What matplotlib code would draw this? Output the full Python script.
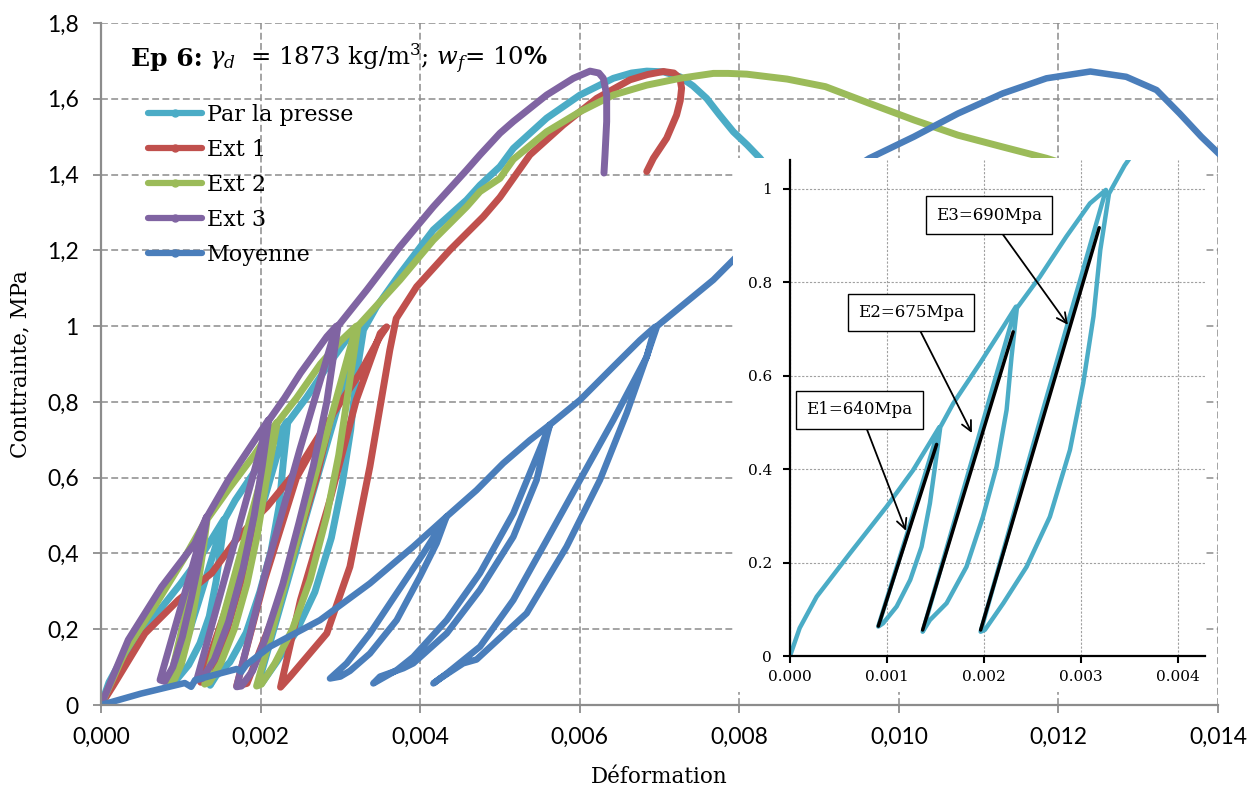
import matplotlib

matplotlib.use("Agg")

import matplotlib.pyplot as plt
from matplotlib.lines import Line2D
from matplotlib.ticker import FuncFormatter, MultipleLocator

# ---- data (strain, stress MPa) ----
presse_x = [0, 0.0001, 0.000275, 0.000619, 0.000997, 0.00127, 0.00154,
            0.00122, 0.00091,
            0.00096, 0.0011, 0.00124, 0.001357, 0.001443, 0.001495, 0.00155,
            0.001684, 0.00196, 0.0022, 0.00233,
            0.00185, 0.001368,
            0.001443, 0.001615, 0.00182, 0.00199, 0.00213, 0.002234, 0.002285, 0.00234,
            0.002577, 0.00285, 0.003093, 0.003258,
            0.0026, 0.001966,
            0.00201, 0.0022, 0.00244, 0.00268, 0.002887, 0.003024, 0.00313, 0.0032, 0.00329,
            0.00345, 0.00375, 0.004165, 0.004583, 0.00475, 0.005, 0.005168, 0.005586,
            0.006004, 0.006421, 0.00665, 0.00684, 0.00705, 0.007256, 0.00742, 0.007591,
            0.00775, 0.007925, 0.0081, 0.00826, 0.0085]
presse_y = [0, 0.06, 0.127, 0.22, 0.32, 0.398, 0.49,
            0.27, 0.063,
            0.07, 0.106, 0.163, 0.234, 0.327, 0.405, 0.49,
            0.541, 0.627, 0.705, 0.748,
            0.40, 0.052,
            0.077, 0.113, 0.191, 0.298, 0.405, 0.527, 0.641, 0.745,
            0.812, 0.898, 0.969, 0.998,
            0.52, 0.052,
            0.056, 0.113, 0.191, 0.298, 0.441, 0.584, 0.727, 0.869, 0.99,
            1.05, 1.139, 1.254, 1.333, 1.372, 1.421, 1.469, 1.549,
            1.61, 1.654, 1.668, 1.673, 1.671, 1.658, 1.634, 1.601,
            1.558, 1.513, 1.478, 1.443, 1.38]

ext1_x = [0, 0.00015, 0.000551, 0.000969, 0.001387, 0.00169, 0.00197,
          0.00161, 0.00125,
          0.00131, 0.00142, 0.00157, 0.00172, 0.00185, 0.00197,
          0.00208, 0.00249, 0.00285,
          0.00245, 0.00205, 0.0017,
          0.00183, 0.00216, 0.00249, 0.0027, 0.00287,
          0.002911, 0.003246, 0.003497, 0.00358,
          0.0035, 0.0032, 0.00287, 0.0025, 0.00225,
          0.00237, 0.00283, 0.00312, 0.00337, 0.00362, 0.0037,
          0.003956, 0.004374, 0.004792, 0.005, 0.005376, 0.005794, 0.006212, 0.00663,
          0.00685, 0.007048, 0.00718, 0.007256, 0.007277, 0.00726, 0.007214, 0.00709,
          0.006923, 0.00684]
ext1_y = [0, 0.05, 0.189, 0.277, 0.348, 0.435, 0.50,
          0.28, 0.06,
          0.062, 0.10, 0.19, 0.30, 0.40, 0.50,
          0.523, 0.629, 0.75,
          0.60, 0.33, 0.05,
          0.057, 0.233, 0.453, 0.60, 0.75,
          0.77, 0.876, 0.972, 0.998,
          0.981, 0.805, 0.541, 0.277, 0.047,
          0.075, 0.189, 0.365, 0.629, 0.937, 1.02,
          1.104, 1.201, 1.289, 1.34, 1.452, 1.531, 1.601, 1.65,
          1.664, 1.672, 1.668, 1.654, 1.628, 1.595, 1.557, 1.496,
          1.443, 1.408]

ext2_x = [0, 0.0003, 0.0007, 0.00105, 0.00132,
          0.00109, 0.00086,
          0.00091, 0.00101, 0.00112, 0.00121, 0.00128, 0.00133,
          0.0016, 0.00192, 0.0022,
          0.00175, 0.0013,
          0.00136, 0.0015, 0.00167, 0.00183, 0.00196, 0.00207, 0.00221,
          0.00245, 0.00275, 0.003, 0.0032,
          0.00258, 0.00195,
          0.00201, 0.00218, 0.0024, 0.00262, 0.00283, 0.00298, 0.0031, 0.00322,
          0.003748, 0.004165, 0.004583, 0.00475, 0.005, 0.005168, 0.005586, 0.006004,
          0.006421, 0.00684, 0.007256, 0.007675, 0.00786, 0.008093, 0.0086, 0.00908,
          0.00963, 0.01019, 0.01074, 0.0113, 0.01185, 0.0125]
ext2_y = [0, 0.14, 0.27, 0.39, 0.49,
          0.27, 0.06,
          0.062, 0.11, 0.20, 0.31, 0.41, 0.49,
          0.57, 0.66, 0.745,
          0.40, 0.055,
          0.06, 0.11, 0.20, 0.32, 0.45, 0.59, 0.745,
          0.81, 0.90, 0.96, 1.0,
          0.525, 0.05,
          0.055, 0.11, 0.20, 0.33, 0.50, 0.66, 0.83, 1.0,
          1.122, 1.227, 1.315, 1.355, 1.39, 1.44, 1.513, 1.566,
          1.61, 1.636, 1.654, 1.667, 1.667, 1.665, 1.652, 1.632,
          1.588, 1.544, 1.504, 1.473, 1.443, 1.40]

ext3_x = [0, 0.000342, 0.00076, 0.001178, 0.001324,
          0.00103, 0.00074,
          0.0008, 0.0009, 0.00102, 0.00113, 0.00122, 0.00129, 0.00133,
          0.001596, 0.001846, 0.002097,
          0.00165, 0.0012,
          0.00127, 0.00142, 0.0016, 0.00178, 0.00192, 0.00202, 0.0021,
          0.0023, 0.0025, 0.00283, 0.00295,
          0.00249, 0.00208, 0.0017,
          0.00176, 0.0019, 0.00205, 0.00228, 0.00248, 0.00266, 0.00283, 0.00297,
          0.00333, 0.003748, 0.004165, 0.004583, 0.00475, 0.005, 0.005168, 0.005586,
          0.00592, 0.006129, 0.00624, 0.006296, 0.006338, 0.006338, 0.006317, 0.006304]
ext3_y = [0, 0.172, 0.312, 0.427, 0.497,
          0.28, 0.066,
          0.062, 0.10, 0.18, 0.28, 0.37, 0.45, 0.497,
          0.594, 0.673, 0.752,
          0.41, 0.066,
          0.07, 0.12, 0.22, 0.36, 0.50, 0.63, 0.75,
          0.81, 0.876, 0.972, 1.0,
          0.673, 0.365, 0.048,
          0.05, 0.09, 0.17, 0.32, 0.48, 0.63, 0.80, 1.0,
          1.095, 1.21, 1.315, 1.412, 1.452, 1.509, 1.54, 1.61,
          1.654, 1.673, 1.668, 1.654, 1.61, 1.54, 1.452, 1.404]

moy_x = [0, 0.0005, 0.00105, 0.00113, 0.00118, 0.0017, 0.00176, 0.00182,
         0.002118, 0.002745, 0.003371, 0.003914, 0.00433,
         0.00404, 0.003706, 0.003371, 0.003079, 0.00287,
         0.003, 0.00312, 0.003371, 0.003706, 0.003998, 0.004207, 0.00433,
         0.004707, 0.005041, 0.005376, 0.005627,
         0.00546, 0.005168, 0.00475, 0.004333, 0.003914, 0.003706, 0.003413,
         0.003497, 0.00379, 0.003914, 0.004333, 0.00475, 0.005168, 0.00546, 0.005586, 0.005627,
         0.006004, 0.006421, 0.006756, 0.006943,
         0.00684, 0.006421, 0.006004, 0.005586, 0.005168, 0.00475, 0.004333, 0.004166,
         0.00425, 0.00454, 0.004707, 0.005335, 0.005836, 0.006254, 0.006588, 0.00684, 0.00697,
         0.007675, 0.00795, 0.0088, 0.00963, 0.01019, 0.01074, 0.0113, 0.01185, 0.0124,
         0.01285, 0.01323, 0.01352, 0.01379, 0.01405]
moy_y = [0, 0.03, 0.058, 0.048, 0.066, 0.095, 0.088, 0.106,
         0.154, 0.224, 0.321, 0.418, 0.497,
         0.40, 0.295, 0.189, 0.11, 0.07,
         0.075, 0.09, 0.136, 0.224, 0.339, 0.427, 0.497,
         0.567, 0.638, 0.699, 0.74,
         0.655, 0.506, 0.348, 0.224, 0.127, 0.092, 0.057,
         0.075, 0.097, 0.11, 0.189, 0.304, 0.444, 0.594, 0.708, 0.74,
         0.805, 0.893, 0.963, 0.998,
         0.919, 0.752, 0.594, 0.435, 0.277, 0.154, 0.083, 0.057,
         0.07, 0.11, 0.12, 0.242, 0.418, 0.594, 0.77, 0.92, 1.0,
         1.122, 1.18, 1.33, 1.443, 1.5, 1.561, 1.614, 1.654, 1.672,
         1.658, 1.623, 1.561, 1.5, 1.447]

series_names = ["Par la presse", "Ext 1", "Ext 2", "Ext 3", "Moyenne"]
series_colors = ["#4bacc6", "#c0504d", "#9bbb59", "#8064a2", "#4a7ebb"]

# secant moduli shown in the inset
mod_labels = ["E1=640Mpa", "E2=675Mpa", "E3=690Mpa"]
mod_x0 = [0.000911, 0.001368, 0.001966]
mod_y0 = [0.064, 0.0557, 0.0557]
mod_x1 = [0.001512, 0.002302, 0.003189]
mod_y1 = [0.453, 0.694, 0.917]
box_xy = [(0.000716, 0.527), (0.001247, 0.7355), (0.002052, 0.944)]
tip_xy = [(0.001196, 0.268), (0.001876, 0.4775), (0.002866, 0.709)]

W, H = 1253, 791
SERIF = "DejaVu Serif"
plt.rcParams["mathtext.fontset"] = "dejavuserif"


def px_rect(l, t, r, b):
    return [l / W, 1 - b / H, (r - l) / W, (b - t) / H]


fig = plt.figure(figsize=(W / 100, H / 100), dpi=100)
ax = fig.add_axes(px_rect(101, 23, 1218, 705))

all_x = [presse_x, ext1_x, ext2_x, ext3_x, moy_x]
all_y = [presse_y, ext1_y, ext2_y, ext3_y, moy_y]
for xs, ys, c in zip(all_x, all_y, series_colors):
    lw = 4.7 if c == "#4a7ebb" else 5.0
    ax.plot(xs, ys, color=c, lw=lw, solid_capstyle="round", solid_joinstyle="round")

ax.set_xlim(0, 0.014)
ax.set_ylim(0, 1.8)
ax.xaxis.set_major_locator(MultipleLocator(0.002))
ax.yaxis.set_major_locator(MultipleLocator(0.2))
ax.xaxis.set_major_formatter(FuncFormatter(lambda v, p: f"{v:.3f}".replace(".", ",")))
ax.yaxis.set_major_formatter(FuncFormatter(
    lambda v, p: f"{v:.0f}" if abs(v - round(v)) < 1e-9 else f"{v:.1f}".replace(".", ",")))
ax.grid(True, color="#8c8c8c", linestyle=(0, (4.5, 2.2)), linewidth=1.1)
for s in ["top", "right"]:
    ax.spines[s].set_visible(False)
for s in ["left", "bottom"]:
    ax.spines[s].set_color("#8c8c8c")
    ax.spines[s].set_linewidth(1.6)
ax.tick_params(direction="out", length=6, width=1.3, color="#8c8c8c", pad=10,
               labelsize=16.5, labelfontfamily="Lato")
ax.set_xlabel("Déformation", family=SERIF, fontsize=15.5, labelpad=13)
ax.set_ylabel("Conttrainte, MPa", family=SERIF, fontsize=15.5, labelpad=11)

# title: bold "Ep 6:" followed by the rest
t1 = fig.text(131 / W, 1 - 66 / H, "Ep 6:", family=SERIF, weight="bold", fontsize=18,
              ha="left", va="baseline")
fig.canvas.draw()
bb = t1.get_window_extent()
fig.text((bb.x1 + 6) / W, 1 - 66 / H,
         r"$\gamma_d$  = 1873 kg/m$^3$; $w_f$= 10$\mathbf{\%}$",
         family=SERIF, fontsize=17.5, ha="left", va="baseline")

handles = [Line2D([], [], color=c, lw=4.5, marker="o", markersize=5,
                  solid_capstyle="round") for c in series_colors]
ax.legend(handles, series_names, loc="upper left", bbox_to_anchor=(148 / W, 1 - 104 / H),
          bbox_transform=fig.transFigure, frameon=False, borderpad=0, borderaxespad=0,
          handlelength=2.45, handletextpad=0.2, labelspacing=0.58,
          prop={"family": SERIF, "size": 16})

# white backing so the inset hides the main curves
bg = fig.add_axes(px_rect(733, 158, 1206, 692), facecolor="white")
bg.set_xticks([])
bg.set_yticks([])
for s in bg.spines.values():
    s.set_visible(False)

ins = fig.add_axes(px_rect(790, 160, 1205, 656), facecolor="white")
ins.plot(presse_x, presse_y, color=series_colors[0], lw=3.2,
         solid_capstyle="round", solid_joinstyle="round")
for x0, y0, x1, y1 in zip(mod_x0, mod_y0, mod_x1, mod_y1):
    ins.plot([x0, x1], [y0, y1], color="black", lw=2.5, solid_capstyle="round")
for txt, bxy, txy in zip(mod_labels, box_xy, tip_xy):
    ins.annotate(txt, xy=txy, xytext=bxy, ha="center", va="center", family=SERIF,
                 fontsize=12,
                 bbox=dict(boxstyle="square,pad=0.62", fc="white", ec="black", lw=1),
                 arrowprops=dict(arrowstyle="->,head_length=0.6,head_width=0.3",
                                 color="black", lw=1.3, shrinkA=0, shrinkB=0))
ins.set_xlim(0, 0.00428)
ins.set_ylim(0, 1.062)
ins.xaxis.set_major_locator(MultipleLocator(0.001))
ins.yaxis.set_major_locator(MultipleLocator(0.2))
ins.xaxis.set_major_formatter(FuncFormatter(lambda v, p: f"{v:.3f}"))
ins.yaxis.set_major_formatter(FuncFormatter(
    lambda v, p: f"{v:.0f}" if abs(v - round(v)) < 1e-9 else f"{v:.1f}"))
ins.grid(True, color="#a0a0a0", linestyle=(0, (2, 1.5)), linewidth=0.8)
for s in ["top", "right"]:
    ins.spines[s].set_visible(False)
for s in ["left", "bottom"]:
    ins.spines[s].set_color("black")
    ins.spines[s].set_linewidth(1.6)
ins.tick_params(direction="out", length=5, width=1.5, color="black", labelsize=11,
                labelfontfamily=SERIF)
ins.tick_params(axis="y", pad=8)
ins.tick_params(axis="x", pad=5)

fig.savefig("out.png", dpi=100)
